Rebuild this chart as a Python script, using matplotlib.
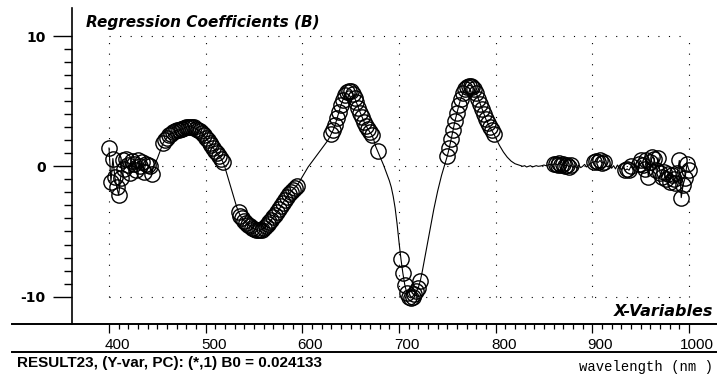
import matplotlib
matplotlib.use("Agg")
import matplotlib.pyplot as plt
from matplotlib.lines import Line2D
from matplotlib.transforms import ScaledTranslation
import numpy as np

plt.rcParams["axes.unicode_minus"] = False

# wavelengths (nm), one sample every 2 nm
wavelength = np.arange(400, 1001, 2)

# regression coefficients B (20 nm per row)
coef = [
    1.4, -1.2, 0.6, -0.8, -1.6, -2.2, -0.9, 0.5, -0.2, 0.6,          # 400-418
    0.1, -0.5, 0.4, 0.2, -0.3, 0.5, 0.0, 0.3, -0.4, 0.2,             # 420-438
    0.1, 0.0, -0.6, 0.0, 0.3, 0.6, 1.0, 1.4, 1.8, 2.0,               # 440-458
    2.2, 2.4, 2.5, 2.6, 2.7, 2.75, 2.8, 2.85, 2.9, 2.95,             # 460-478
    3.0, 3.05, 3.05, 3.0, 3.0, 2.9, 2.8, 2.7, 2.55, 2.4,             # 480-498
    2.2, 2.0, 1.8, 1.6, 1.4, 1.2, 1.0, 0.8, 0.6, 0.3,                # 500-518
    -0.1, -0.6, -1.1, -1.6, -2.1, -2.6, -3.1, -3.5, -3.8, -4.0,      # 520-538
    -4.2, -4.35, -4.5, -4.6, -4.7, -4.8, -4.85, -4.9, -4.9, -4.85,   # 540-558
    -4.75, -4.6, -4.45, -4.3, -4.1, -3.9, -3.7, -3.5, -3.3, -3.05,   # 560-578
    -2.8, -2.55, -2.35, -2.15, -1.95, -1.8, -1.65, -1.5, -1.3, -1.05,  # 580-598
    -0.8, -0.55, -0.3, -0.05, 0.15, 0.35, 0.55, 0.75, 0.95, 1.15,    # 600-618
    1.35, 1.55, 1.75, 1.95, 2.2, 2.5, 2.8, 3.2, 3.7, 4.2,            # 620-638
    4.7, 5.1, 5.45, 5.7, 5.8, 5.75, 5.55, 5.25, 4.9, 4.5,            # 640-658
    4.1, 3.75, 3.4, 3.1, 2.85, 2.6, 2.4, 2.0, 1.5, 1.15,             # 660-678
    0.8, 0.45, 0.1, -0.3, -0.7, -1.1, -1.6, -2.3, -3.2, -4.4,        # 680-698
    -5.8, -7.1, -8.2, -9.1, -9.7, -10.0, -10.1, -10.0, -9.8, -9.6,   # 700-718
    -9.3, -8.8, -8.1, -7.3, -6.5, -5.7, -4.9, -4.1, -3.3, -2.6,      # 720-738
    -1.9, -1.3, -0.7, -0.2, 0.3, 0.8, 1.4, 2.1, 2.8, 3.5,            # 740-758
    4.1, 4.7, 5.2, 5.6, 5.9, 6.1, 6.2, 6.2, 6.1, 5.9,                # 760-778
    5.6, 5.2, 4.8, 4.4, 4.0, 3.6, 3.3, 3.0, 2.75, 2.5,               # 780-798
    2.2, 1.9, 1.6, 1.35, 1.1, 0.9, 0.7, 0.55, 0.4, 0.3,              # 800-818
    0.2, 0.15, 0.1, 0.05, 0.0, 0.05, -0.05, 0.0, 0.05, -0.05,        # 820-838
    0.0, 0.05, 0.0, 0.02, 0.05, 0.1, 0.05, 0.1, 0.15, 0.1,           # 840-858
    0.15, 0.2, 0.1, 0.25, 0.1, 0.15, 0.05, 0.1, -0.05, 0.1,          # 860-878
    -0.1, 0.05, -0.15, 0.1, -0.1, 0.0, 0.15, -0.05, 0.1, 0.2,        # 880-898
    0.3, 0.35, 0.4, 0.3, 0.45, 0.25, 0.35, 0.1, -0.05, 0.1,          # 900-918
    -0.15, 0.05, -0.2, 0.1, -0.1, -0.25, -0.1, -0.3, -0.2, -0.3,     # 920-938
    0.0, -0.2, 0.1, -0.15, 0.2, 0.45, 0.1, -0.2, 0.5, -0.8,          # 940-958
    0.3, 0.7, 0.6, -0.3, 0.65, -0.5, -0.8, -0.4, -1.0, -0.6,         # 960-978
    -1.2, -0.7, -1.0, -1.3, -0.5, 0.45, -2.4, -1.4, -0.9, 0.2,       # 980-998
    -0.3,                                                            # 1000
]

# wavelength ranges whose points are drawn with a circle (significant)
circled = [(400, 444), (456, 518), (534, 594), (630, 672), (678, 678),
           (702, 722), (750, 798), (860, 878), (902, 912), (934, 940),
           (948, 1000)]

title = "Regression Coefficients (B)"
x_name = "X-Variables"
footer = "RESULT23, (Y-var, PC): (*,1) B0 = 0.024133"
unit = "wavelength (nm )"

coef = np.array(coef)
mask = np.zeros(len(wavelength), dtype=bool)
for lo, hi in circled:
    mask |= (wavelength >= lo) & (wavelength <= hi)

W, H = 717, 375
fig = plt.figure(figsize=(W / 100, H / 100), dpi=100)

def fx(px):
    return px / W

def fy(py):
    return 1 - py / H

ax = fig.add_axes([fx(72), fy(324), fx(717 - 72), (324 - 8) / H])
ax.set_xlim(361.7, 1029)
ax.set_ylim(-12.1, 12.15)

# dotted grid, only inside 400-1000 / -10..10
dots = (0, (1, 8.5))
ax.hlines([-10, 0, 10], 400, 1000, colors="black", linestyles=dots, lw=0.8, zorder=1)
ax.vlines(np.arange(400, 1001, 100), -10, 10, colors="black", linestyles=dots, lw=0.8, zorder=1)

ax.plot(wavelength, coef, color="black", lw=0.8, zorder=2)
# circles without antialiasing, like the crisp screen grab
ax.plot(wavelength[mask], coef[mask], "o", ms=11, mfc="none", mec="black", mew=1.0,
        zorder=3, antialiased=False)

for side in ["top", "right"]:
    ax.spines[side].set_visible(False)
ax.spines["left"].set_linewidth(1.2)
ax.spines["bottom"].set_linewidth(1.4)

ax.set_xticks(np.arange(400, 1001, 100))
ax.set_xticks(np.arange(400, 1001, 10), minor=True)
ax.set_yticks([-10, 0, 10])
ax.set_yticks(np.arange(-10, 11, 1), minor=True)
ax.tick_params(axis="x", which="major", length=6.5, width=0.9, pad=3.5,
               labelsize=11, labelfontfamily="Liberation Sans")
ax.tick_params(axis="x", which="minor", length=3.5, width=0.9)
ax.tick_params(axis="y", which="major", length=13.5, width=1.0, pad=5.5,
               labelsize=10, labelfontfamily="DejaVu Sans")
ax.tick_params(axis="y", which="minor", length=5.8, width=1.0)

# x labels sit a little right of their ticks, as in the original
for tick in ax.xaxis.get_major_ticks():
    lab = tick.label1
    dx = 3 if tick.get_loc() >= 1000 else 8
    lab.set_transform(lab.get_transform() + ScaledTranslation(dx / 100, 0, fig.dpi_scale_trans))
for lab in ax.get_yticklabels():
    lab.set_fontweight("bold")

# lines outside the axes
fig.add_artist(Line2D([fx(12), fx(72)], [fy(324), fy(324)], color="black", lw=1.4))
fig.add_artist(Line2D([fx(12), 1], [fy(352), fy(352)], color="black", lw=1.4))

fig.text(fx(86), fy(23), title, fontsize=11, fontweight="bold", style="italic",
         family="DejaVu Sans", va="center", ha="left")
fig.text(fx(713), fy(312), x_name, fontsize=11.5, fontweight="bold", style="italic",
         family="DejaVu Sans", va="center", ha="right")
fig.text(fx(17), fy(363), footer, fontsize=11, fontweight="bold",
         family="Liberation Sans", va="center", ha="left")
fig.text(fx(579), fy(371), unit, fontsize=10, family="Liberation Mono",
         va="baseline", ha="left")

fig.savefig("out.png", dpi=100)
